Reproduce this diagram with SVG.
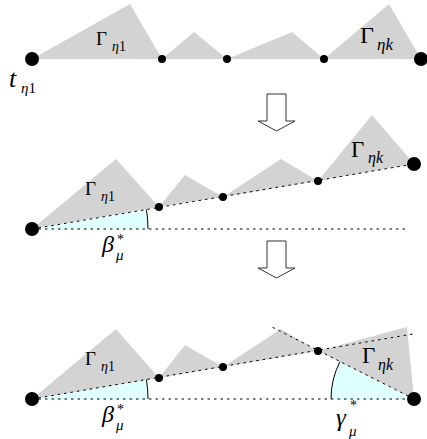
<svg xmlns="http://www.w3.org/2000/svg" width="427" height="439" viewBox="0 0 427 439">
<style>
.tri{fill:#d3d3d3;stroke:none}
.big{fill:#000}
.dot{fill:#000}
.dash{stroke:#000;stroke-width:1;stroke-dasharray:2.5 4;fill:none}
.wedge{fill:#e0ffff;stroke:none}
.arc{fill:none;stroke:#000;stroke-width:1}
.arrow{fill:#fff;stroke:#333;stroke-width:1}
.it{font-style:italic}
</style>
<rect width="427" height="439" fill="#fff"/>
<g id="row1" font-family="'Liberation Serif', 'DejaVu Serif', serif">
  <polygon class="tri" points="32,59 130,4 162,59"/>
  <polygon class="tri" points="162,59 194,32 227,59"/>
  <polygon class="tri" points="227,59 292,32 324,59"/>
  <polygon class="tri" points="324,59 389,4 421,59"/>
  <circle class="big" cx="32" cy="59" r="7"/>
  <circle class="dot" cx="162" cy="59" r="4"/>
  <circle class="dot" cx="227" cy="59" r="4"/>
  <circle class="dot" cx="324" cy="59" r="4"/>
  <circle class="big" cx="421" cy="59" r="7"/>
  <text x="96" y="45" font-size="19">Γ</text>
  <text x="112" y="51" font-size="14"><tspan class="it">η</tspan>1</text>
  <text x="360" y="43" font-size="24">Γ</text>
  <text x="377" y="50" font-size="17" class="it">ηk</text>
  <text x="9" y="87" font-size="26" class="it">t</text>
  <text x="21" y="93" font-size="15"><tspan class="it">η</tspan>1</text>
</g>
<g id="arrow1"><path class="arrow" d="M267,94 H286 V121 H295 L276.5,131 L258,121 H267 Z"/></g>
<g id="row2" font-family="'Liberation Serif', 'DejaVu Serif', serif">
  <path class="wedge" d="M32,229 L148,229 A116,116 0 0,0 146.4,209.5 Z"/>
  <polygon class="tri" points="32,229 116,159 159,207"/>
  <polygon class="tri" points="159,207 185,175 223,197"/>
  <polygon class="tri" points="223,197 281,159 318,181"/>
  <polygon class="tri" points="318,181 372,115 414,164"/>
  <path class="arc" d="M148,229 A116,116 0 0,0 146.4,209.5"/>
  <g id="conn2">
    <line class="dash" x1="32" y1="229" x2="407" y2="229"/>
    <line class="dash" x1="32" y1="229" x2="414" y2="164"/>
  </g>
  <circle class="big" cx="32" cy="229" r="7"/>
  <circle class="dot" cx="159" cy="207" r="4"/>
  <circle class="dot" cx="223" cy="197" r="4"/>
  <circle class="dot" cx="318" cy="181" r="4"/>
  <circle class="big" cx="414" cy="164" r="7"/>
  <text x="85" y="195" font-size="19">Γ</text>
  <text x="101" y="201" font-size="14"><tspan class="it">η</tspan>1</text>
  <text x="351" y="157" font-size="23">Γ</text>
  <text x="368" y="163" font-size="16" class="it">ηk</text>
  <text x="102" y="252" font-size="24" class="it">β</text>
  <text x="117" y="244" font-size="14">*</text>
  <text x="116" y="260" font-size="15" class="it">μ</text>
</g>
<g id="arrow2"><path class="arrow" d="M267,241 H286 V268 H295 L276.5,278 L258,268 H267 Z"/></g>
<g id="row3" font-family="'Liberation Serif', 'DejaVu Serif', serif">
  <path class="wedge" d="M32,399 L148,399 A116,116 0 0,0 146.4,379.5 Z"/>
  <path class="wedge" d="M414,399 L331,399 A83,83 0 0,1 339.8,361.9 Z"/>
  <polygon class="tri" points="32,399 116,329 159,378"/>
  <polygon class="tri" points="159,378 185,345 223,367"/>
  <polygon class="tri" points="223,367 281,329 318,351"/>
  <polygon class="tri" points="318,351 407,327 414,399"/>
  <path class="arc" d="M148,399 A116,116 0 0,0 146.4,379.5"/>
  <path class="arc" d="M331,399 A83,83 0 0,1 339.8,361.9"/>
  <g id="conn3">
    <line class="dash" x1="32" y1="399" x2="414" y2="399"/>
    <line class="dash" x1="32" y1="399" x2="413" y2="334"/>
    <line class="dash" x1="414" y1="399" x2="272" y2="327"/>
  </g>
  <circle class="big" cx="32" cy="399" r="7"/>
  <circle class="dot" cx="159" cy="378" r="4"/>
  <circle class="dot" cx="223" cy="367" r="4"/>
  <circle class="dot" cx="318" cy="351" r="4"/>
  <circle class="big" cx="414" cy="399" r="7"/>
  <text x="85" y="365" font-size="19">Γ</text>
  <text x="101" y="371" font-size="14"><tspan class="it">η</tspan>1</text>
  <text x="362" y="363" font-size="23">Γ</text>
  <text x="378" y="370" font-size="16" class="it">ηk</text>
  <text x="102" y="422" font-size="24" class="it">β</text>
  <text x="117" y="414" font-size="14">*</text>
  <text x="116" y="430" font-size="15" class="it">μ</text>
  <text x="336" y="426" font-size="25" class="it">γ</text>
  <text x="350" y="410" font-size="14">*</text>
  <text x="349" y="436" font-size="15" class="it">μ</text>
</g>
</svg>
